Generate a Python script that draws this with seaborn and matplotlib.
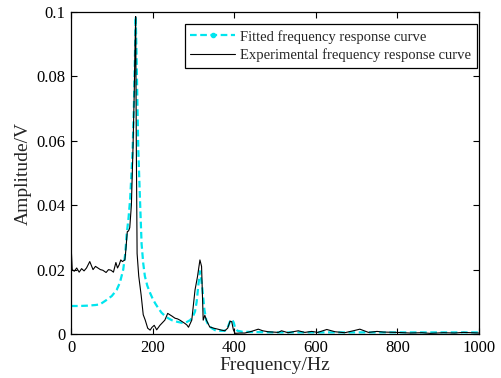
import pandas as pd
import seaborn as sns
import matplotlib.pyplot as plt
from matplotlib.lines import Line2D

# experimental curve
exp_freq = [0, 3, 8, 14, 20, 26, 32, 38, 46, 54, 60, 66, 72, 78, 86, 92, 98, 104, 110, 114,
            118, 122, 126, 132, 134, 138, 141, 144, 148, 152, 155, 157, 158.5, 160, 162,
            166, 172, 177, 182, 188, 194, 198, 204, 210, 218, 224, 230, 237, 242, 247, 255,
            261, 267, 273, 279, 284, 288, 296, 304, 310, 316, 320, 324, 328, 332, 340, 350,
            360, 369, 377, 384, 390, 394, 398, 402, 414, 426, 442, 459, 470, 483, 508, 516,
            532, 557, 573, 590, 605, 627, 647, 671, 692, 708, 729, 750, 766, 798, 831, 860,
            880, 913, 940, 962, 980, 1000]
exp_amp = [0.028, 0.020, 0.0195, 0.0205, 0.0192, 0.0203, 0.0196, 0.0205, 0.0225, 0.0200,
           0.0210, 0.0205, 0.0200, 0.0198, 0.0191, 0.0200, 0.0198, 0.0192, 0.0222, 0.0205,
           0.0215, 0.0230, 0.0225, 0.0230, 0.0255, 0.0318, 0.0320, 0.0330, 0.040, 0.058,
           0.075, 0.090, 0.0986, 0.060, 0.025, 0.018, 0.012, 0.0060, 0.0043, 0.0018, 0.0012,
           0.0020, 0.0027, 0.0013, 0.0027, 0.0035, 0.0043, 0.0064, 0.0060, 0.0056, 0.0049,
           0.0047, 0.0043, 0.0038, 0.0033, 0.0028, 0.0021, 0.0043, 0.0137, 0.0178, 0.0230,
           0.0210, 0.0043, 0.0058, 0.0043, 0.0022, 0.0018, 0.0015, 0.0012, 0.0010, 0.0018,
           0.0040, 0.0038, 0.0013, 0.0002, 0.0003, 0.0003, 0.0008, 0.0015, 0.0010, 0.0007,
           0.0005, 0.0010, 0.0004, 0.0010, 0.0005, 0.0008, 0.0005, 0.0014, 0.0007, 0.0004,
           0.0010, 0.0015, 0.0005, 0.0008, 0.0006, 0.0005, 0.0003, 0.0004, 0.0002, 0.0004,
           0.0003, 0.0005, 0.0004, 0.0003]

# fitted curve
fit_freq = [0, 20, 40, 60, 71, 87.5, 100, 112, 120, 128, 133, 136.5, 141, 145, 149, 151, 154,
            156.5, 158.5, 160.5, 163, 165, 169, 173, 177, 181, 187, 194, 200, 206, 214, 222,
            234, 247, 260, 271, 282, 292, 298, 304, 308, 312, 316, 319, 322, 327, 332, 337,
            345, 353, 365, 377, 384, 390, 395, 399, 402, 408, 420, 450, 500, 600, 700, 800,
            900, 1000]
fit_amp = [0.0087, 0.0087, 0.0088, 0.0090, 0.0092, 0.0106, 0.0118, 0.0137, 0.0160, 0.0200,
           0.0250, 0.0310, 0.0360, 0.0420, 0.0520, 0.0570, 0.0700, 0.0850, 0.0986, 0.0880,
           0.0700, 0.0570, 0.0420, 0.0280, 0.0220, 0.0180, 0.0150, 0.0127, 0.0110, 0.0096,
           0.0080, 0.0066, 0.0052, 0.0043, 0.0038, 0.0035, 0.0036, 0.0043, 0.0052, 0.0070,
           0.0100, 0.0150, 0.0195, 0.0170, 0.0140, 0.0075, 0.0040, 0.0027, 0.0018, 0.0012,
           0.0010, 0.0010, 0.0020, 0.0040, 0.0045, 0.0035, 0.0020, 0.0010, 0.0007, 0.0006,
           0.0005, 0.0005, 0.0005, 0.0005, 0.0005, 0.0005]

x_ticks = [0, 200, 400, 600, 800, 1000]
y_ticks = [0, 0.02, 0.04, 0.06, 0.08, 0.1]
y_ticklabels = ['0', '0.02', '0.04', '0.06', '0.08', '0.1']

labels = ['Fitted frequency response curve', 'Experimental frequency response curve']

sns.set_style('ticks')
plt.rcParams['font.family'] = ['Liberation Serif', 'DejaVu Serif']

fit_df = pd.DataFrame({'freq': fit_freq, 'amp': fit_amp})
exp_df = pd.DataFrame({'freq': exp_freq, 'amp': exp_amp})

fig = plt.figure(figsize=(5.02, 3.78), dpi=100)
ax = fig.add_axes([71 / 502, 44 / 378, 408 / 502, 322 / 378])

sns.lineplot(data=fit_df, x='freq', y='amp', ax=ax, color='#00e5ee', lw=1.6,
             linestyle=(0, (3, 1.6)), zorder=2)
sns.lineplot(data=exp_df, x='freq', y='amp', ax=ax, color='black', lw=0.8, zorder=3)

ax.set_xlim(0, 1000)
ax.set_ylim(0, 0.1)
ax.set_xticks(x_ticks)
ax.set_yticks(y_ticks)
ax.set_yticklabels(y_ticklabels)
ax.set_xlabel('Frequency/Hz', fontsize=14, labelpad=1)
ax.set_ylabel('Amplitude/V', fontsize=14, labelpad=3)
ax.tick_params(direction='in', length=4, width=0.8, top=True, right=True,
               labelsize=12, pad=4, colors='black')
for sp in ax.spines.values():
    sp.set_linewidth(0.9)
    sp.set_color('black')
    sp.set_visible(True)

handles = [Line2D([], [], color='#00e5ee', lw=1.6, linestyle=(0, (3, 1.6)),
                  marker='.', markersize=6),
           Line2D([], [], color='black', lw=0.8)]
lg = ax.legend(handles=handles, labels=labels, loc='upper right',
               bbox_to_anchor=(0.995, 0.962), borderaxespad=0, fancybox=False,
               fontsize=10.5, handlelength=3.1, handletextpad=0.35, labelspacing=0.35,
               borderpad=0.38, framealpha=1)
lg.get_frame().set_edgecolor('k')
lg.get_frame().set_linewidth(0.9)

plt.savefig('out.png', dpi=100)
